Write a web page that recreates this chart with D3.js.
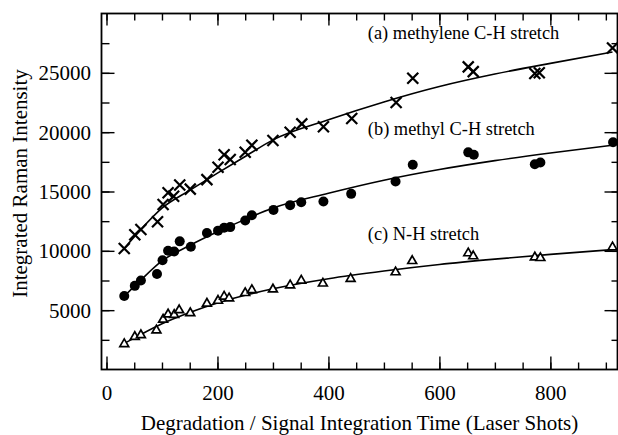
<!DOCTYPE html>
<html>
<head>
<meta charset="utf-8">
<script src="https://cdn.jsdelivr.net/npm/d3@7"></script>
<style>
  html, body { margin: 0; padding: 0; background: #fff; }
  svg { display: block; }
  text { font-family: "Liberation Serif", "Times New Roman", serif; fill: #000; }
</style>
</head>
<body>
<svg id="chart" width="618" height="435"></svg>
<script>
// ---------------- data ----------------
const methyleneShots = [32, 51, 62, 92, 102, 111, 121, 132, 151, 181, 201, 212, 223, 250, 262, 300, 331, 352, 391, 442, 522, 552, 652, 661, 772, 780, 912];
const methyleneIntensity = [10200, 11350, 11800, 12450, 13900, 14900, 14600, 15550, 15200, 16000, 17050, 18100, 17700, 18300, 18900, 19300, 20000, 20700, 20450, 21150, 22500, 24550, 25500, 25100, 24950, 25000, 27100];

const methylShots = [32, 51, 62, 91, 101, 111, 122, 132, 152, 181, 201, 212, 223, 250, 262, 301, 331, 351, 391, 441, 521, 552, 652, 662, 772, 782, 913];
const methylIntensity = [6200, 7050, 7500, 8050, 9200, 10000, 9950, 10800, 10350, 11500, 11700, 11950, 12000, 12550, 13000, 13450, 13850, 14100, 14150, 14800, 15850, 17250, 18300, 18100, 17300, 17450, 19150];

const nhShots = [32, 51, 62, 90, 102, 111, 122, 131, 151, 181, 201, 212, 221, 250, 262, 300, 331, 351, 390, 440, 521, 551, 652, 661, 772, 782, 912];
const nhIntensity = [2150, 2750, 2900, 3300, 4200, 4650, 4600, 5000, 4750, 5550, 5800, 6150, 6000, 6450, 6700, 6750, 7100, 7500, 7250, 7650, 8200, 9150, 9800, 9550, 9450, 9400, 10300];

// fitted curves
const fitShots = [32, 60, 100, 150, 200, 250, 300, 400, 500, 600, 700, 800, 912];
const fitMethylene = [10200, 11700, 13600, 15100, 16550, 17950, 19350, 21050, 22550, 23850, 24900, 25800, 26750];
const fitMethyl = [6180, 7450, 9150, 10450, 11600, 12650, 13600, 14850, 15950, 16850, 17600, 18250, 18900];
const fitNH = [2200, 2900, 3850, 4800, 5600, 6250, 6800, 7650, 8300, 8850, 9300, 9700, 10100];

const xMajorTicks = [0, 200, 400, 600, 800];
const xMinorTicks = [0, 50, 100, 150, 200, 250, 300, 350, 400, 450, 500, 550, 600, 650, 700, 750, 800, 850, 900];
const yMajorTicks = [5000, 10000, 15000, 20000, 25000];
const yMinorTicks = [2500, 5000, 7500, 10000, 12500, 15000, 17500, 20000, 22500, 25000, 27500];

const seriesLabels = ["(a) methylene C-H stretch", "(b) methyl C-H stretch", "(c) N-H stretch"];
const xTitle = "Degradation / Signal Integration Time (Laser Shots)";
const yTitle = "Integrated Raman Intensity";

// ---------------- layout ----------------
const svg = d3.select("#chart");
const L = 101.5, R = 617.5, T = 13.5, B = 369.5;

const x = d3.scaleLinear().domain([-9, 921]).range([L, R]);
const y = d3.scaleLinear().domain([0, 30000]).range([B, T]);

function styleAxis(g) {
  g.select(".domain").remove();
  g.selectAll(".tick line").attr("stroke", "#000").attr("stroke-width", 1.4);
  g.selectAll("text").attr("font-family", "Liberation Serif, serif").attr("font-size", 21).attr("fill", "#000");
}

// bottom
svg.append("g").attr("transform", `translate(0,${B})`)
  .call(d3.axisBottom(x).tickValues(xMinorTicks).tickSize(-7).tickFormat(""))
  .call(styleAxis);
svg.append("g").attr("transform", `translate(0,${B})`)
  .call(d3.axisBottom(x).tickValues(xMajorTicks).tickSize(-13).tickPadding(30).tickFormat(d3.format("d")))
  .call(styleAxis)
  .call(g => g.selectAll("text").attr("dy", 0).attr("y", 30));
// top
svg.append("g").attr("transform", `translate(0,${T})`)
  .call(d3.axisTop(x).tickValues(xMinorTicks).tickSize(-7).tickFormat(""))
  .call(styleAxis);
svg.append("g").attr("transform", `translate(0,${T})`)
  .call(d3.axisTop(x).tickValues(xMajorTicks).tickSize(-12).tickFormat(""))
  .call(styleAxis);
// left
svg.append("g").attr("transform", `translate(${L},0)`)
  .call(d3.axisLeft(y).tickValues(yMinorTicks).tickSize(-8).tickFormat(""))
  .call(styleAxis);
svg.append("g").attr("transform", `translate(${L},0)`)
  .call(d3.axisLeft(y).tickValues(yMajorTicks).tickSize(-13).tickPadding(0).tickFormat(d3.format("d")))
  .call(styleAxis)
  .call(g => g.selectAll("text").attr("x", -10.5).attr("dy", 7).attr("text-anchor", "end"));
// right
svg.append("g").attr("transform", `translate(${R},0)`)
  .call(d3.axisRight(y).tickValues(yMinorTicks).tickSize(-6).tickFormat(""))
  .call(styleAxis);
svg.append("g").attr("transform", `translate(${R},0)`)
  .call(d3.axisRight(y).tickValues(yMajorTicks).tickSize(-13).tickFormat(""))
  .call(styleAxis);

// frame
svg.append("rect")
  .attr("x", L).attr("y", T).attr("width", R - L).attr("height", B - T)
  .attr("fill", "none").attr("stroke", "#000").attr("stroke-width", 1.8);

// curves
const line = (vals) => d3.line()
  .x((d, i) => x(fitShots[i]))
  .y(d => y(d))
  .curve(d3.curveMonotoneX)(vals);

[fitMethylene, fitMethyl, fitNH].forEach(vals => {
  svg.append("path").attr("d", line(vals))
    .attr("fill", "none").attr("stroke", "#000").attr("stroke-width", 1.6);
});

// markers
const crossSize = 5.5;
svg.append("g").selectAll("path")
  .data(methyleneShots.map((s, i) => [s, methyleneIntensity[i]]))
  .join("path")
  .attr("d", d => {
    const cx = x(d[0]), cy = y(d[1]), s = crossSize;
    return `M${cx - s},${cy - s}L${cx + s},${cy + s}M${cx - s},${cy + s}L${cx + s},${cy - s}`;
  })
  .attr("stroke", "#000").attr("stroke-width", 2.2).attr("fill", "none");

svg.append("g").selectAll("circle")
  .data(methylShots.map((s, i) => [s, methylIntensity[i]]))
  .join("circle")
  .attr("cx", d => x(d[0])).attr("cy", d => y(d[1])).attr("r", 5)
  .attr("fill", "#000");

const tri = d3.symbol().type(d3.symbolTriangle).size(34);
svg.append("g").selectAll("path")
  .data(nhShots.map((s, i) => [s, nhIntensity[i]]))
  .join("path")
  .attr("d", tri)
  .attr("transform", d => `translate(${x(d[0])},${y(d[1])})`)
  .attr("fill", "#fff").attr("stroke", "#000").attr("stroke-width", 1.7);

// series labels
const labelPos = [[471, 27850], [471, 19800], [471, 10900]];
seriesLabels.forEach((t, i) => {
  svg.append("text")
    .attr("x", x(labelPos[i][0])).attr("y", y(labelPos[i][1]))
    .attr("font-size", 18.4)
    .text(t);
});

// axis titles
svg.append("text")
  .attr("x", (L + R) / 2).attr("y", 430)
  .attr("text-anchor", "middle").attr("font-size", 21)
  .text(xTitle);
svg.append("text")
  .attr("transform", `translate(27,${(T + B) / 2 - 8}) rotate(-90)`)
  .attr("text-anchor", "middle").attr("font-size", 21)
  .text(yTitle);
</script>
</body>
</html>
